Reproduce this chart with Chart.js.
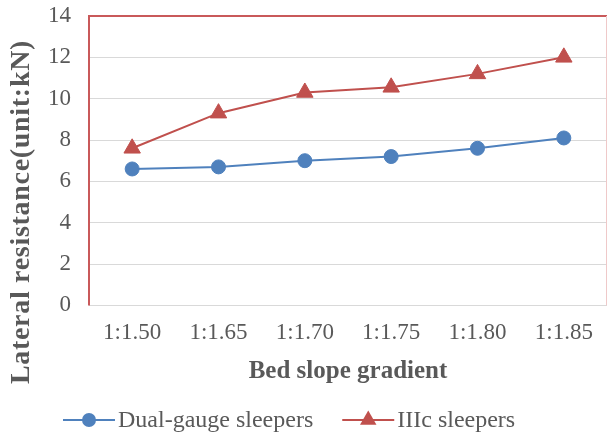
<!DOCTYPE html>
<html>
<head>
<meta charset="utf-8">
<script src="https://cdn.jsdelivr.net/npm/chart.js@4"></script>
<style>
  html, body { margin: 0; padding: 0; background: #fff; }
  #wrap { width: 608px; height: 434px; position: relative; }
</style>
</head>
<body>
<div id="wrap"><canvas id="c"></canvas></div>
<script>
/* Lateral resistance vs bed slope gradient — two sleeper types */
const SLOPES = ["1:1.50", "1:1.65", "1:1.70", "1:1.75", "1:1.80", "1:1.85"];
const DUAL_GAUGE = [6.6, 6.7, 7.0, 7.2, 7.6, 8.1];
const IIIC = [7.6, 9.3, 10.3, 10.55, 11.2, 12.0];
const Y_TICKS = [0, 2, 4, 6, 8, 10, 12, 14];

const SERIF = "'Liberation Serif', 'Times New Roman', serif";
const GREY = "#595959";
const BLUE = "#4F81BD", RED = "#C0504D";

// red frame round the plot (left, top) + faint right edge, like the Excel export
const plotFrame = {
  id: "plotFrame",
  beforeDatasetsDraw(chart) {
    const { ctx, chartArea: a } = chart;
    ctx.save();
    ctx.strokeStyle = "#C9595A";
    ctx.lineWidth = 2;
    ctx.beginPath();
    ctx.moveTo(a.left, a.bottom);
    ctx.lineTo(a.left, a.top);
    ctx.lineTo(a.right, a.top);
    ctx.stroke();
    ctx.strokeStyle = "#EFC9C9";
    ctx.lineWidth = 1;
    ctx.beginPath();
    ctx.moveTo(a.right - 0.5, a.top);
    ctx.lineTo(a.right - 0.5, a.bottom);
    ctx.stroke();
    ctx.restore();
  },
};

// y title sits lower than the plot centre in the original, so it is drawn here
const yTitle = {
  id: "yTitle",
  afterDraw(chart) {
    const ctx = chart.ctx;
    ctx.save();
    ctx.translate(22, 212);
    ctx.rotate(-Math.PI / 2);
    ctx.font = "bold 28px " + SERIF;
    if ("letterSpacing" in ctx) ctx.letterSpacing = "0.7px";
    ctx.fillStyle = GREY;
    ctx.textAlign = "center";
    ctx.textBaseline = "middle";
    ctx.fillText("Lateral resistance(unit:kN)", 0, 0);
    ctx.restore();
  },
};

// Excel-style legend: short line with the marker in the middle
const lineLegend = {
  id: "lineLegend",
  afterDraw(chart) {
    const ctx = chart.ctx;
    const y = chart.height - 14;
    let x = 63;
    ctx.save();
    ctx.font = "24px " + SERIF;
    ctx.textBaseline = "middle";
    chart.data.datasets.forEach(ds => {
      ctx.strokeStyle = ds.borderColor;
      ctx.lineWidth = 2;
      ctx.beginPath(); ctx.moveTo(x, y); ctx.lineTo(x + 52, y); ctx.stroke();
      ctx.fillStyle = ds.pointBackgroundColor;
      Chart.helpers.drawPoint(ctx, { pointStyle: ds.pointStyle, radius: ds.pointRadius, rotation: 0, borderWidth: 0 }, x + 26, y);
      ctx.fillStyle = GREY;
      ctx.fillText(ds.label, x + 55, y + 1);
      x += 55 + ctx.measureText(ds.label).width + 29;
    });
    ctx.restore();
  },
};

new Chart(document.getElementById("c"), {
  type: "line",
  data: {
    labels: SLOPES,
    datasets: [
      { label: "Dual-gauge sleepers", data: DUAL_GAUGE, borderColor: BLUE, backgroundColor: BLUE,
        pointBackgroundColor: BLUE, pointBorderColor: BLUE, pointStyle: "circle", pointRadius: 7,
        pointBorderWidth: 1, borderWidth: 2, tension: 0 },
      { label: "IIIc sleepers", data: IIIC, borderColor: RED, backgroundColor: RED,
        pointBackgroundColor: RED, pointBorderColor: RED, pointStyle: "triangle", pointRadius: 9.5,
        pointBorderWidth: 1, borderWidth: 2, tension: 0 },
    ],
  },
  options: {
    responsive: true, maintainAspectRatio: false, animation: false,
    layout: { autoPadding: false, padding: { top: 16, right: 1, bottom: 47, left: 30 } },
    plugins: { legend: { display: false }, tooltip: { enabled: false } },
    scales: {
      x: {
        offset: true,
        afterFit: s => { s.paddingLeft = 0; s.paddingRight = 0; },
        grid: { display: false, drawTicks: false },
        border: { display: false },
        ticks: { color: GREY, padding: 14, maxRotation: 0, font: { family: SERIF, size: 23 } },
        title: { display: true, text: "Bed slope gradient", color: GREY,
                 padding: { top: -4, bottom: 0 }, font: { family: SERIF, size: 25, weight: "bold" } },
      },
      y: {
        min: Y_TICKS[0], max: Y_TICKS[Y_TICKS.length - 1],
        afterBuildTicks: s => { s.ticks = Y_TICKS.map(v => ({ value: v })); },
        afterFit: s => { s.paddingTop = 14; s.paddingBottom = 14; },
        grid: { color: "#D9D9D9", lineWidth: 1, drawTicks: false },
        border: { display: false },
        ticks: { color: GREY, padding: 18, font: { family: SERIF, size: 23 } },
      },
    },
  },
  plugins: [plotFrame, yTitle, lineLegend],
});
</script>
</body>
</html>
